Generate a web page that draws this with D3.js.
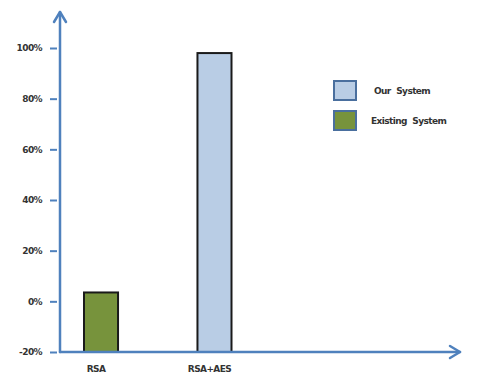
<!DOCTYPE html>
<html><head><meta charset="utf-8">
<script src="https://cdn.jsdelivr.net/npm/d3@7"></script>
<style>body{margin:0;background:#fff}svg{display:block}</style>
</head><body>
<script>
const categories = ["RSA", "RSA+AES"];
const ourSystem = [null, 98];
const existingSystem = [3.5, null];
const tickValues = [-20, 0, 20, 40, 60, 80, 100];
const tickLabels = ["-20%", "0%", "20%", "40%", "60%", "80%", "100%"];
const seriesNames = ["Our System", "Existing System"];
const seriesColors = ["#b9cde5", "#77933c"];

const W = 479, H = 379;
const svg = d3.select("body").append("svg").attr("width", W).attr("height", H);
const axisColor = "#4f81bd";
const x0 = 60, yBase = 352;

const y = d3.scaleLinear().domain([-20, 100]).range([yBase, 48]);
const x = d3.scaleBand().domain(categories).range([84, 231.5]).paddingInner(0.7).paddingOuter(0);

// bars
const series = [ourSystem, existingSystem];
series.forEach((vals, si) => {
  svg.append("g").selectAll("rect")
    .data(categories.map((c, i) => ({c, v: vals[i]})).filter(d => d.v != null))
    .join("rect")
    .attr("x", d => x(d.c))
    .attr("width", x.bandwidth())
    .attr("y", d => y(d.v))
    .attr("height", d => y(-20) - y(d.v))
    .attr("fill", seriesColors[si])
    .attr("stroke", "#1a1a1a")
    .attr("stroke-width", 2);
});

// y axis ticks & labels
const yAxis = d3.axisLeft(y).tickValues(tickValues).tickSize(7).tickPadding(8)
  .tickFormat((d, i) => tickLabels[i]);
const gy = svg.append("g").attr("transform", `translate(${x0 - 3},0)`).call(yAxis);
gy.select(".domain").remove();
gy.selectAll(".tick line").attr("stroke", axisColor).attr("stroke-width", 2);
gy.selectAll(".tick text").attr("fill", "#333").attr("font-family", "DejaVu Sans")
  .attr("font-size", 9).attr("font-weight", "bold").attr("letter-spacing", -0.6);

// x labels
const xAxis = d3.axisBottom(x).tickSize(0).tickPadding(14);
const gx = svg.append("g").attr("transform", `translate(-5,${yBase})`).call(xAxis);
gx.select(".domain").remove();
gx.selectAll(".tick text").attr("fill", "#333").attr("font-family", "DejaVu Sans")
  .attr("font-size", 9).attr("font-weight", "bold").attr("letter-spacing", -0.6);

// axes lines with arrows
const ax = svg.append("g").attr("stroke", axisColor).attr("stroke-width", 2.5).attr("fill", "none")
  .attr("stroke-linecap", "round").attr("stroke-linejoin", "round");
ax.append("line").attr("x1", x0).attr("y1", yBase).attr("x2", x0).attr("y2", 12);
ax.append("path").attr("d", `M${x0 - 6},${22} L${x0},${12} L${x0 + 6},${22}`);
ax.append("line").attr("x1", x0).attr("y1", yBase).attr("x2", 460).attr("y2", yBase);
ax.append("path").attr("d", `M${450},${yBase - 6} L${460},${yBase} L${450},${yBase + 6}`);

// legend
const lg = svg.append("g");
seriesNames.forEach((n, i) => {
  lg.append("rect").attr("x", 334).attr("y", 81 + i * 30).attr("width", 22).attr("height", 19)
    .attr("fill", seriesColors[i]).attr("stroke", "#4a6f9e").attr("stroke-width", 2);
  lg.append("text").attr("x", i === 0 ? 374 : 371).attr("y", 94 + i * 30).text(n)
    .attr("fill", "#333").attr("font-family", "DejaVu Sans").attr("font-size", 9)
    .attr("font-weight", "bold").attr("letter-spacing", -0.6).attr("word-spacing", 3);
});
</script>
</body></html>
